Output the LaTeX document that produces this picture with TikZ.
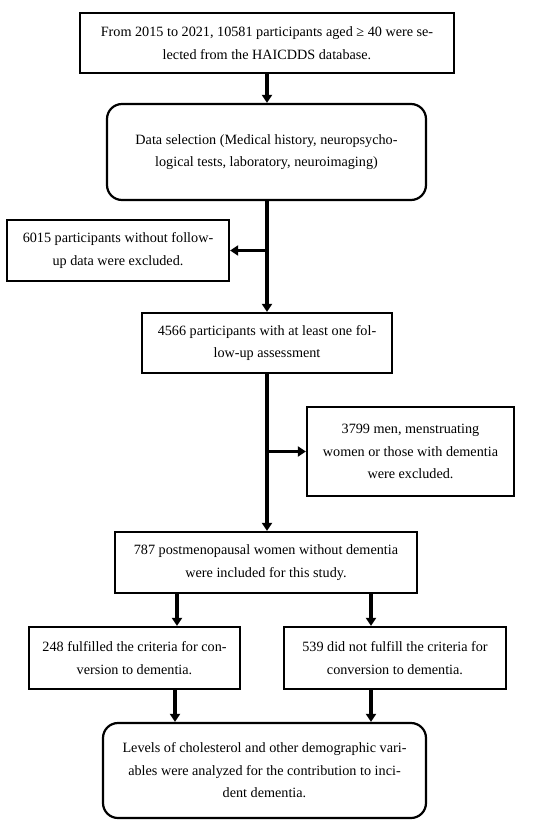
\documentclass[tikz,border=0pt]{standalone}
\usepackage{fontspec}
\setmainfont{Liberation Serif}
\usetikzlibrary{arrows.meta}
\begin{document}
\begin{tikzpicture}[x=1pt,y=-1pt,
  box/.style={draw,line width=2.2pt,align=center,inner sep=0pt,
    font=\fontsize{14.2}{22.5}\selectfont},
  rbox/.style={box,rounded corners=15pt},
  arr/.style={line width=3.2pt,-{Triangle[length=8pt,width=10pt]}}]
\useasboundingbox (0,0) rectangle (550,828);
\node[box,minimum width=374pt,minimum height=60pt] (b1) at (267,43)
  {From 2015 to 2021, 10581 participants aged ≥ 40 were se-\\lected from the HAICDDS database.};
\node[rbox,minimum width=319pt,minimum height=96pt] (b2) at (266.5,152)
  {Data selection (Medical history, neuropsycho-\\logical tests, laboratory, neuroimaging)};
\node[box,minimum width=222pt,minimum height=61pt] (e1) at (118,250.5)
  {6015 participants without follow-\\up data were excluded.};
\node[box,minimum width=250pt,minimum height=60pt] (b3) at (267,343)
  {4566 participants with at least one fol-\\low-up assessment};
\node[box,minimum width=207pt,minimum height=89pt] (e2) at (410.5,451.5)
  {3799 men, menstruating\\women or those with dementia\\were excluded.};
\node[box,minimum width=302pt,minimum height=61pt] (b4) at (266,562.5)
  {787 postmenopausal women without dementia\\were included for this study.};
\node[box,minimum width=211pt,minimum height=62pt] (b5) at (134.5,658)
  {248 fulfilled the criteria for con-\\version to dementia.};
\node[box,minimum width=222pt,minimum height=62pt] (b6) at (395,658)
  {539 did not fulfill the criteria for\\conversion to dementia.};
\node[rbox,minimum width=323pt,minimum height=95pt] (b7) at (264.5,770.5)
  {Levels of cholesterol and other demographic vari-\\ables were analyzed for the contribution to inci-\\dent dementia.};
\coordinate (m) at (267,0);
\coordinate (l) at (177,0);
\coordinate (r) at (371,0);
\coordinate (l2) at (175,0);
\draw[arr] (m |- b1.south) -- (m |- b2.north);
\draw[arr] (m |- b2.south) -- (m |- b3.north);
\draw[arr] (m |- e1.east) -- (e1.east);
\draw[arr] (m |- b3.south) -- (m |- b4.north);
\draw[arr] (m |- e2.west) -- (e2.west);
\draw[arr] (l |- b4.south) -- (l |- b5.north);
\draw[arr] (r |- b4.south) -- (r |- b6.north);
\draw[arr] (l2 |- b5.south) -- (l2 |- b7.north);
\draw[arr] (r |- b6.south) -- (r |- b7.north);
\end{tikzpicture}
\end{document}
